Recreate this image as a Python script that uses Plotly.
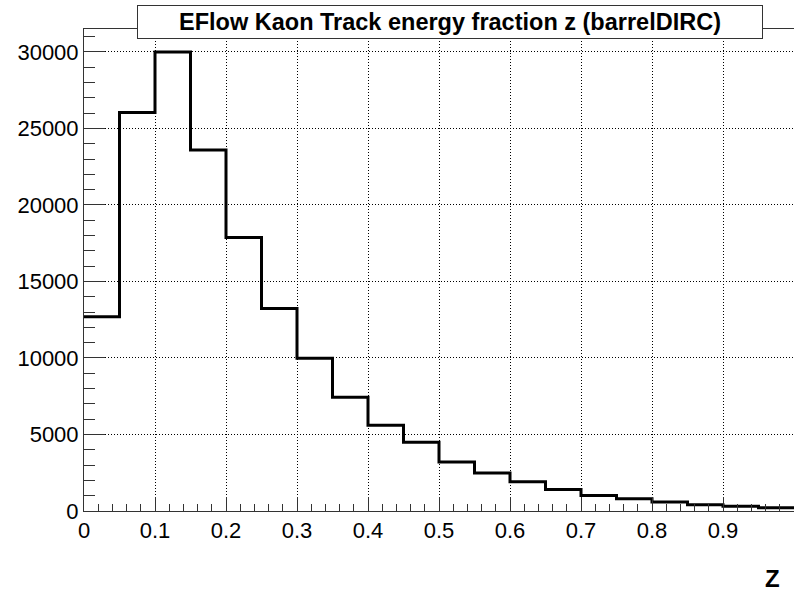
import numpy as np
import plotly.graph_objects as go

bin_low = [0.00, 0.05, 0.10, 0.15, 0.20, 0.25, 0.30, 0.35, 0.40, 0.45,
           0.50, 0.55, 0.60, 0.65, 0.70, 0.75, 0.80, 0.85, 0.90, 0.95]
bin_width = 0.05
counts = [12700, 26050, 30000, 23600, 17870, 13240, 9980, 7430, 5610, 4500,
          3200, 2480, 1910, 1410, 1020, 800, 590, 410, 310, 220]
title = "EFlow Kaon Track energy fraction z (barrelDIRC)"
xtitle = "Z"
xtick_vals = [0, 0.1, 0.2, 0.3, 0.4, 0.5, 0.6, 0.7, 0.8, 0.9]
xtick_text = ["0", "0.1", "0.2", "0.3", "0.4", "0.5", "0.6", "0.7", "0.8", "0.9"]
ytick_vals = [0, 5000, 10000, 15000, 20000, 25000, 30000]
ytick_text = ["0", "5000", "10000", "15000", "20000", "25000", "30000"]

xs = list(bin_low) + [bin_low[-1] + bin_width]
ys = list(counts) + [counts[-1]]

fig = go.Figure()
fig.add_trace(go.Scatter(x=xs, y=ys, mode="lines", line=dict(shape="hv", color="black", width=3),
                         hoverinfo="skip", showlegend=False, cliponaxis=True))

font = "Liberation Sans, Arial, Helvetica, sans-serif"
axcol = "#333333"
fig.update_layout(
    width=794, height=591,
    margin=dict(l=84, r=0, t=29, b=80),
    paper_bgcolor="white", plot_bgcolor="white",
    font=dict(family=font, color="black", size=22),
    showlegend=False,
    xaxis=dict(range=[0, 1], tickvals=xtick_vals, ticktext=xtick_text,
               ticks="inside", ticklen=14, tickwidth=1, tickcolor=axcol,
               showline=True, linecolor=axcol, linewidth=1, mirror=True,
               showgrid=True, gridcolor="black", griddash="1px,2px", gridwidth=1,
               zeroline=False, tickfont=dict(size=22),
               minor=dict(dtick=0.02, ticks="inside", ticklen=7, tickcolor=axcol, showgrid=False)),
    yaxis=dict(range=[0, 31500], tickvals=ytick_vals, ticktext=ytick_text,
               ticks="inside", ticklen=21, tickwidth=1, tickcolor=axcol,
               showline=True, linecolor=axcol, linewidth=1, mirror=True,
               showgrid=True, gridcolor="black", griddash="1px,2px", gridwidth=1,
               zeroline=False, tickfont=dict(size=22),
               minor=dict(dtick=1000, ticks="inside", ticklen=11, tickcolor=axcol, showgrid=False)),
    annotations=[
        dict(text="<b>" + title + "</b>", xref="paper", yref="paper",
             x=(450 - 84) / 710, y=(511 - 22) / 482, xanchor="center", yanchor="middle",
             showarrow=False, font=dict(size=23.5, family=font), bgcolor="white",
             bordercolor=axcol, borderwidth=1, width=622, height=30),
        dict(text="<b>" + xtitle + "</b>", xref="paper", yref="paper",
             x=(782 - 84) / 710, y=-(578 - 511) / 482, xanchor="right", yanchor="middle",
             showarrow=False, font=dict(size=24, family=font)),
    ],
)
fig.write_html("out.html")
